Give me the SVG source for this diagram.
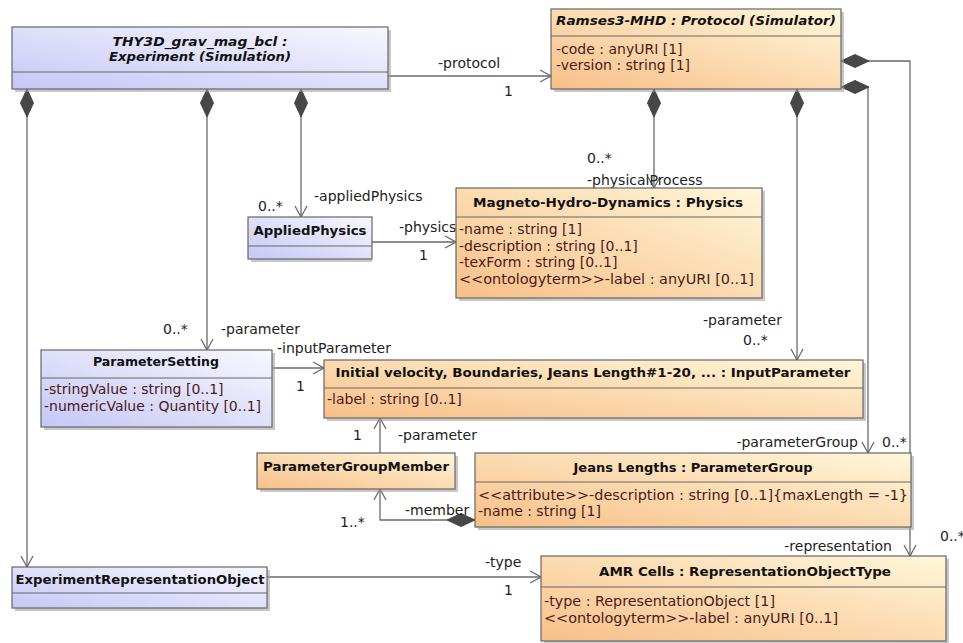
<svg xmlns="http://www.w3.org/2000/svg" width="963" height="643" viewBox="0 0 963 643">
<style>
.box{stroke:#666;stroke-width:1.2}
.blue{fill:url(#gBlue)}
.orange{fill:url(#gOrange)}
.shadow{fill:#9a9a9a;opacity:0.55}
.sep{stroke:#666;stroke-width:1}
.title{font-family:"DejaVu Sans",sans-serif;font-weight:bold;font-size:13px;fill:#111;text-anchor:middle}
.ititle{font-family:"DejaVu Sans",sans-serif;font-weight:bold;font-style:italic;font-size:13px;fill:#111;text-anchor:middle}
.attr{font-family:"DejaVu Sans",sans-serif;font-size:14px;fill:#4a1a1a}
.lbl{font-family:"DejaVu Sans",sans-serif;font-size:14px;fill:#222}
.conn{fill:none;stroke:#6a6a6a;stroke-width:1.3}
.comp{marker-start:url(#diamond)}
.nav{marker-end:url(#arrow)}
</style>
<defs>
<linearGradient id="gBlue" x1="0" y1="1" x2="1" y2="0">
<stop offset="0" stop-color="#c6c7f5"/>
<stop offset="1" stop-color="#f8f8ff"/>
</linearGradient>
<linearGradient id="gOrange" x1="0" y1="1" x2="1" y2="0">
<stop offset="0" stop-color="#f8bf88"/>
<stop offset="1" stop-color="#fff7da"/>
</linearGradient>
<marker id="arrow" markerUnits="userSpaceOnUse" markerWidth="13" markerHeight="14" viewBox="0 0 13 14" refX="12" refY="7" orient="auto">
<path d="M1,1 L12,7 L1,13" fill="none" stroke="#6a6a6a" stroke-width="1.3"/>
</marker>
<marker id="diamond" markerUnits="userSpaceOnUse" markerWidth="30" markerHeight="15" viewBox="0 0 30 15" refX="0" refY="7.5" orient="auto">
<path d="M0,7.5 L14,1 L28,7.5 L14,14 Z" fill="#474747" stroke="#474747" stroke-width="1"/>
</marker>
</defs>

<g id="connectors">
<path class="conn nav" d="M388,76 H551"/>
<path class="conn comp nav" d="M27,89 V567"/>
<path class="conn comp nav" d="M207,89 V350"/>
<path class="conn comp nav" d="M301,89 V217"/>
<path class="conn nav" d="M372,242 H456"/>
<path class="conn comp nav" d="M654,89 V188"/>
<path class="conn comp nav" d="M797,89 V360"/>
<path class="conn comp nav" d="M841,87 H868 V453"/>
<path class="conn comp nav" d="M841,61 H910 V556"/>
<path class="conn nav" d="M272,368 H324"/>
<path class="conn nav" d="M380,453 V418"/>
<path class="conn comp nav" d="M475,520 H380 V489"/>
<path class="conn nav" d="M267,577 H541"/>
<text class="lbl" x="438" y="68">-protocol</text>
<text class="lbl" x="504" y="96">1</text>
<text class="lbl" x="314" y="201">-appliedPhysics</text>
<text class="lbl" x="258" y="211">0..*</text>
<text class="lbl" x="399" y="232">-physics</text>
<text class="lbl" x="419" y="260">1</text>
<text class="lbl" x="587" y="163">0..*</text>
<text class="lbl" x="587" y="185">-physicalProcess</text>
<text class="lbl" x="163" y="334">0..*</text>
<text class="lbl" x="221" y="334">-parameter</text>
<text class="lbl" x="277" y="353">-inputParameter</text>
<text class="lbl" x="296" y="391">1</text>
<text class="lbl" x="703" y="325">-parameter</text>
<text class="lbl" x="743" y="345">0..*</text>
<text class="lbl" x="858" y="447" text-anchor="end">-parameterGroup</text>
<text class="lbl" x="882" y="447">0..*</text>
<text class="lbl" x="353" y="440">1</text>
<text class="lbl" x="398" y="440">-parameter</text>
<text class="lbl" x="405" y="515">-member</text>
<text class="lbl" x="340" y="527">1..*</text>
<text class="lbl" x="892" y="551" text-anchor="end">-representation</text>
<text class="lbl" x="940" y="541">0..*</text>
<text class="lbl" x="485" y="567">-type</text>
<text class="lbl" x="504" y="595">1</text>
</g>

<g id="node-experiment">
<rect class="shadow" x="15" y="30" width="376" height="62"/>
<rect class="box blue" x="12" y="27" width="376" height="62"/>
<line class="sep" x1="12" y1="72" x2="388" y2="72"/>
<text class="ititle" x="200" y="46" textLength="175" lengthAdjust="spacingAndGlyphs">THY3D_grav_mag_bcl :</text>
<text class="ititle" x="200" y="61" textLength="182" lengthAdjust="spacingAndGlyphs">Experiment (Simulation)</text>
</g>

<g id="node-protocol">
<rect class="shadow" x="554" y="12" width="290" height="80"/>
<rect class="box orange" x="551" y="9" width="290" height="80"/>
<line class="sep" x1="551" y1="36" x2="841" y2="36"/>
<text class="ititle" x="696" y="25" textLength="280" lengthAdjust="spacingAndGlyphs">Ramses3-MHD : Protocol (Simulator)</text>
<text class="attr" x="556" y="54">-code : anyURI [1]</text>
<text class="attr" x="556" y="70">-version : string [1]</text>
</g>

<g id="node-appliedphysics">
<rect class="shadow" x="251" y="220" width="121" height="42"/>
<rect class="box blue" x="248" y="217" width="124" height="42"/>
<line class="sep" x1="248" y1="246" x2="372" y2="246"/>
<text class="title" x="310" y="235" textLength="113" lengthAdjust="spacingAndGlyphs">AppliedPhysics</text>
</g>

<g id="node-physics">
<rect class="shadow" x="459" y="191" width="306" height="110"/>
<rect class="box orange" x="456" y="188" width="306" height="110"/>
<line class="sep" x1="456" y1="217" x2="762" y2="217"/>
<text class="title" x="608" y="207" textLength="270" lengthAdjust="spacingAndGlyphs">Magneto-Hydro-Dynamics : Physics</text>
<text class="attr" x="459" y="234">-name : string [1]</text>
<text class="attr" x="459" y="251">-description : string [0..1]</text>
<text class="attr" x="459" y="267">-texForm : string [0..1]</text>
<text class="attr" x="459" y="284" textLength="295" lengthAdjust="spacingAndGlyphs">&lt;&lt;ontologyterm&gt;&gt;-label : anyURI [0..1]</text>
</g>

<g id="node-parametersetting">
<rect class="shadow" x="44" y="353" width="231" height="77"/>
<rect class="box blue" x="41" y="350" width="231" height="77"/>
<line class="sep" x1="41" y1="378" x2="272" y2="378"/>
<text class="title" x="156" y="366" textLength="126" lengthAdjust="spacingAndGlyphs">ParameterSetting</text>
<text class="attr" x="44" y="394">-stringValue : string [0..1]</text>
<text class="attr" x="44" y="411">-numericValue : Quantity [0..1]</text>
</g>

<g id="node-inputparameter">
<rect class="shadow" x="327" y="363" width="539" height="58"/>
<rect class="box orange" x="324" y="360" width="539" height="58"/>
<line class="sep" x1="324" y1="388" x2="863" y2="388"/>
<text class="title" x="593" y="377" textLength="515" lengthAdjust="spacingAndGlyphs">Initial velocity, Boundaries, Jeans Length#1-20, ... : InputParameter</text>
<text class="attr" x="327" y="404">-label : string [0..1]</text>
</g>

<g id="node-parametergroupmember">
<rect class="shadow" x="260" y="456" width="198" height="36"/>
<rect class="box orange" x="257" y="453" width="198" height="36"/>
<text class="title" x="356" y="471" textLength="186" lengthAdjust="spacingAndGlyphs">ParameterGroupMember</text>
</g>

<g id="node-parametergroup">
<rect class="shadow" x="478" y="456" width="436" height="74"/>
<rect class="box orange" x="475" y="453" width="436" height="74"/>
<line class="sep" x1="475" y1="482" x2="911" y2="482"/>
<text class="title" x="693" y="472" textLength="239" lengthAdjust="spacingAndGlyphs">Jeans Lengths : ParameterGroup</text>
<text class="attr" x="478" y="500" textLength="430" lengthAdjust="spacingAndGlyphs">&lt;&lt;attribute&gt;&gt;-description : string [0..1]{maxLength = -1}</text>
<text class="attr" x="478" y="516">-name : string [1]</text>
</g>

<g id="node-experimentrepresentationobject">
<rect class="shadow" x="15" y="570" width="255" height="41"/>
<rect class="box blue" x="12" y="567" width="255" height="41"/>
<line class="sep" x1="12" y1="593" x2="267" y2="593"/>
<text class="title" x="140" y="584" textLength="249" lengthAdjust="spacingAndGlyphs">ExperimentRepresentationObject</text>
</g>

<g id="node-representationobjecttype">
<rect class="shadow" x="544" y="559" width="405" height="86"/>
<rect class="box orange" x="541" y="556" width="405" height="85"/>
<line class="sep" x1="541" y1="587" x2="946" y2="587"/>
<text class="title" x="745" y="576" textLength="292" lengthAdjust="spacingAndGlyphs">AMR Cells : RepresentationObjectType</text>
<text class="attr" x="544" y="606" textLength="231" lengthAdjust="spacingAndGlyphs">-type : RepresentationObject [1]</text>
<text class="attr" x="544" y="623" textLength="294" lengthAdjust="spacingAndGlyphs">&lt;&lt;ontologyterm&gt;&gt;-label : anyURI [0..1]</text>
</g>
</svg>
